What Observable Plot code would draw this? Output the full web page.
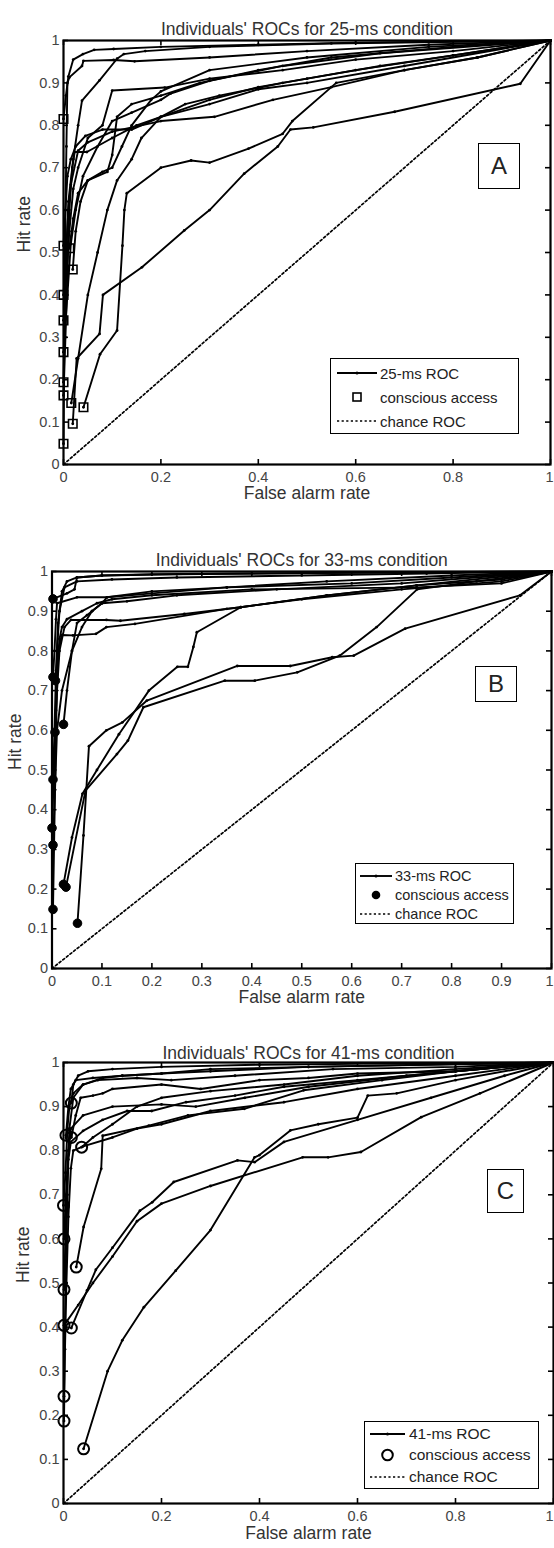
<!DOCTYPE html>
<html><head><meta charset="utf-8">
<script src="https://cdn.jsdelivr.net/npm/d3@7"></script>
<script src="https://cdn.jsdelivr.net/npm/@observablehq/plot@0.6"></script>
<style>
body{margin:0;background:#fff;}
#wrap{position:relative;width:554px;height:1548px;font-family:"Liberation Sans",Arial,sans-serif;color:#222;overflow:hidden;}
.panel{position:absolute;left:0;}
.panel svg{display:block;}
.box{position:absolute;border:1.6px solid #000;background:#fff;box-sizing:border-box;}
.row{position:absolute;left:0;right:0;height:20px;display:flex;align-items:center;white-space:nowrap;}
.row svg{flex:none;}
.letter{position:absolute;border:1.6px solid #000;box-sizing:border-box;display:flex;align-items:center;justify-content:center;background:#fff;color:#222;}
</style></head><body><div id="wrap"></div>
<script>
// ---- tick labels ----
const xTicksA = [0, 0.2, 0.4, 0.6, 0.8, 1];
const xTicksB = [0, 0.1, 0.2, 0.3, 0.4, 0.5, 0.6, 0.7, 0.8, 0.9, 1];
const xTicksC = [0, 0.2, 0.4, 0.6, 0.8, 1];
const yTicks = [0, 0.1, 0.2, 0.3, 0.4, 0.5, 0.6, 0.7, 0.8, 0.9, 1];
const chance = [0, 1];

// ---- ROC curves, [false alarm rate, hit rate]; first point = conscious access ----
const rocA = [
  [[0,0.815],[0.005,0.87],[0.01,0.915],[0.02,0.955],[0.04,0.968],[0.063,0.978],[0.103,0.98],[0.2,0.985],[0.4,0.99],[0.6,0.995],[1,1]],
  [[0,0.049],[0.001,0.2],[0.002,0.4],[0.004,0.6],[0.006,0.75],[0.008,0.9],[0.012,0.913],[0.038,0.94],[0.041,0.952],[0.103,0.954],[0.146,0.951],[0.3,0.96],[0.5,0.975],[0.75,0.99],[1,1]],
  [[0,0.194],[0.003,0.35],[0.006,0.5],[0.01,0.62],[0.02,0.72],[0.03,0.8],[0.038,0.858],[0.074,0.906],[0.11,0.957],[0.124,0.968],[0.168,0.975],[0.3,0.985],[0.55,0.993],[1,1]],
  [[0,0.163],[0.004,0.3],[0.008,0.45],[0.012,0.6],[0.018,0.7],[0.023,0.737],[0.048,0.737],[0.1,0.77],[0.15,0.8],[0.2,0.82],[0.3,0.86],[0.4,0.89],[0.5,0.91],[0.65,0.94],[0.8,0.965],[1,1]],
  [[0,0.4],[0.005,0.5],[0.01,0.6],[0.015,0.66],[0.03,0.74],[0.05,0.76],[0.1,0.785],[0.2,0.81],[0.31,0.82],[0.43,0.86],[0.55,0.89],[0.7,0.93],[0.85,0.96],[1,1]],
  [[0,0.34],[0.006,0.45],[0.012,0.55],[0.02,0.65],[0.03,0.7],[0.05,0.77],[0.08,0.8],[0.1,0.882],[0.208,0.889],[0.3,0.91],[0.45,0.93],[0.6,0.955],[0.8,0.975],[1,1]],
  [[0,0.265],[0.008,0.4],[0.015,0.52],[0.025,0.6],[0.04,0.68],[0.07,0.75],[0.1,0.81],[0.14,0.83],[0.2,0.86],[0.22,0.875],[0.3,0.905],[0.45,0.94],[0.65,0.97],[1,1]],
  [[0,0.516],[0.004,0.6],[0.008,0.68],[0.015,0.72],[0.025,0.75],[0.045,0.775],[0.08,0.79],[0.14,0.79],[0.2,0.82],[0.3,0.85],[0.4,0.885],[0.5,0.9],[0.7,0.94],[1,1]],
  [[0.019,0.46],[0.025,0.55],[0.035,0.62],[0.05,0.67],[0.08,0.69],[0.1,0.7],[0.12,0.75],[0.14,0.8],[0.18,0.86],[0.2,0.88],[0.3,0.93],[0.5,0.96],[0.75,0.985],[1,1]],
  [[0.016,0.145],[0.03,0.25],[0.05,0.4],[0.07,0.5],[0.09,0.6],[0.11,0.67],[0.14,0.72],[0.16,0.77],[0.2,0.82],[0.25,0.85],[0.32,0.87],[0.45,0.9],[0.6,0.93],[0.8,0.965],[1,1]],
  [[0.019,0.096],[0.027,0.25],[0.074,0.308],[0.081,0.4],[0.161,0.465],[0.248,0.552],[0.3,0.6],[0.371,0.686],[0.44,0.75],[0.466,0.79],[0.513,0.795],[0.68,0.832],[0.938,0.898],[1,1]],
  [[0.041,0.135],[0.075,0.26],[0.11,0.316],[0.121,0.516],[0.125,0.6],[0.13,0.64],[0.2,0.7],[0.262,0.717],[0.3,0.712],[0.38,0.745],[0.45,0.78],[0.47,0.81],[0.56,0.9],[0.7,0.93],[0.85,0.96],[1,1]],
  [[0.012,0.51],[0.02,0.58],[0.03,0.64],[0.05,0.67],[0.09,0.69],[0.1,0.73],[0.11,0.82],[0.14,0.85],[0.2,0.87],[0.28,0.9],[0.4,0.93],[0.55,0.96],[0.8,0.985],[1,1]]
];

const rocB = [
  [[0.002,0.931],[0.03,0.945],[0.045,0.955],[0.05,0.985],[0.1,0.99],[0.2,0.993],[0.4,0.995],[0.7,0.998],[1,1]],
  [[0.002,0.734],[0.005,0.8],[0.008,0.88],[0.01,0.92],[0.05,0.935],[0.11,0.935],[0.2,0.945],[0.35,0.96],[0.55,0.975],[0.8,0.99],[1,1]],
  [[0.007,0.725],[0.012,0.8],[0.02,0.84],[0.042,0.839],[0.088,0.843],[0.109,0.86],[0.166,0.868],[0.35,0.906],[0.5,0.93],[0.7,0.955],[0.9,0.975],[1,1]],
  [[0.023,0.615],[0.03,0.7],[0.04,0.8],[0.05,0.87],[0.07,0.89],[0.08,0.9],[0.1,0.92],[0.15,0.925],[0.25,0.94],[0.45,0.955],[0.7,0.97],[1,1]],
  [[0.006,0.595],[0.01,0.7],[0.015,0.8],[0.025,0.86],[0.038,0.878],[0.109,0.878],[0.137,0.876],[0.265,0.893],[0.378,0.91],[0.55,0.94],[0.73,0.965],[0.9,0.98],[1,1]],
  [[0.002,0.476],[0.005,0.6],[0.008,0.75],[0.012,0.87],[0.02,0.95],[0.03,0.975],[0.05,0.985],[0.1,0.99],[0.25,0.993],[0.5,0.996],[1,1]],
  [[0,0.354],[0.004,0.5],[0.008,0.65],[0.01,0.8],[0.015,0.9],[0.025,0.96],[0.05,0.975],[0.12,0.98],[0.25,0.985],[0.5,0.99],[0.75,0.995],[1,1]],
  [[0.002,0.311],[0.006,0.45],[0.01,0.6],[0.02,0.7],[0.04,0.8],[0.06,0.86],[0.08,0.9],[0.1,0.92],[0.11,0.935],[0.2,0.95],[0.35,0.96],[0.6,0.97],[0.8,0.985],[1,1]],
  [[0.023,0.212],[0.04,0.33],[0.061,0.44],[0.09,0.5],[0.134,0.59],[0.194,0.7],[0.251,0.76],[0.272,0.76],[0.283,0.81],[0.29,0.847],[0.378,0.91],[0.55,0.94],[0.73,0.965],[1,1]],
  [[0.051,0.114],[0.063,0.335],[0.074,0.56],[0.109,0.6],[0.141,0.62],[0.19,0.675],[0.371,0.762],[0.477,0.762],[0.561,0.784],[0.604,0.788],[0.707,0.856],[0.937,0.94],[1,1]],
  [[0.028,0.205],[0.067,0.448],[0.13,0.54],[0.152,0.574],[0.183,0.658],[0.346,0.725],[0.406,0.725],[0.491,0.746],[0.576,0.788],[0.65,0.86],[0.731,0.955],[0.85,0.975],[1,1]],
  [[0.002,0.149],[0.004,0.3],[0.006,0.45],[0.008,0.6],[0.01,0.7],[0.012,0.78],[0.015,0.83],[0.02,0.86],[0.03,0.88],[0.06,0.9],[0.09,0.92],[0.12,0.93],[0.2,0.94],[0.4,0.955],[0.73,0.96],[0.9,0.97],[1,1]]
];

const rocC = [
  [[0.041,0.124],[0.09,0.3],[0.12,0.37],[0.164,0.445],[0.229,0.528],[0.3,0.62],[0.39,0.785],[0.4,0.79],[0.463,0.846],[0.52,0.86],[0.6,0.875],[0.621,0.925],[0.68,0.93],[0.8,0.96],[1,1]],
  [[0.016,0.398],[0.048,0.483],[0.066,0.53],[0.1,0.58],[0.156,0.664],[0.181,0.683],[0.225,0.729],[0.355,0.778],[0.39,0.774],[0.45,0.82],[0.6,0.87],[0.75,0.92],[0.9,0.97],[1,1]],
  [[0.001,0.404],[0.03,0.45],[0.06,0.5],[0.1,0.56],[0.15,0.64],[0.2,0.68],[0.3,0.72],[0.488,0.785],[0.54,0.785],[0.607,0.797],[0.73,0.876],[0.85,0.93],[1,1]],
  [[0.026,0.536],[0.041,0.627],[0.077,0.759],[0.08,0.834],[0.174,0.857],[0.254,0.88],[0.369,0.895],[0.49,0.937],[0.65,0.96],[0.8,0.98],[1,1]],
  [[0.037,0.808],[0.06,0.83],[0.1,0.86],[0.15,0.9],[0.2,0.92],[0.3,0.935],[0.45,0.95],[0.6,0.97],[0.8,0.985],[1,1]],
  [[0.016,0.908],[0.02,0.95],[0.03,0.97],[0.05,0.98],[0.1,0.985],[0.2,0.99],[0.4,0.995],[0.7,0.998],[1,1]],
  [[0.005,0.835],[0.01,0.9],[0.015,0.94],[0.025,0.96],[0.06,0.965],[0.12,0.97],[0.2,0.975],[0.3,0.98],[0.5,0.99],[1,1]],
  [[0.016,0.83],[0.025,0.88],[0.035,0.92],[0.06,0.925],[0.08,0.93],[0.1,0.94],[0.2,0.95],[0.28,0.94],[0.4,0.96],[0.5,0.965],[0.6,0.975],[0.8,0.98],[1,1]],
  [[0,0.676],[0.004,0.75],[0.008,0.85],[0.012,0.9],[0.02,0.93],[0.04,0.95],[0.07,0.96],[0.15,0.965],[0.22,0.96],[0.35,0.97],[0.55,0.985],[0.8,0.99],[1,1]],
  [[0.001,0.6],[0.005,0.7],[0.01,0.8],[0.015,0.85],[0.04,0.88],[0.1,0.9],[0.2,0.905],[0.27,0.9],[0.37,0.92],[0.5,0.945],[0.7,0.97],[1,1]],
  [[0.001,0.485],[0.004,0.6],[0.008,0.75],[0.012,0.85],[0.02,0.92],[0.04,0.95],[0.08,0.965],[0.12,0.97],[0.2,0.975],[0.3,0.985],[0.5,0.99],[1,1]],
  [[0.001,0.243],[0.003,0.4],[0.005,0.55],[0.008,0.7],[0.01,0.78],[0.015,0.82],[0.04,0.845],[0.08,0.87],[0.13,0.89],[0.18,0.89],[0.25,0.91],[0.35,0.925],[0.45,0.945],[0.6,0.96],[0.8,0.98],[1,1]],
  [[0.001,0.187],[0.003,0.35],[0.006,0.5],[0.01,0.65],[0.015,0.76],[0.02,0.8],[0.04,0.81],[0.1,0.83],[0.15,0.85],[0.2,0.86],[0.3,0.89],[0.45,0.91],[0.6,0.94],[0.8,0.97],[1,1]]
];

const FONT = '"Liberation Sans", Arial, sans-serif';
const fmt = d3.format("~g");

function panel(o) {
  const fh = o.height - o.mt - o.mb, fw = 554 - o.ml - o.mr;
  const pts = o.curves.flatMap((c, i) => c.map(([fa, hit]) => ({id: i, fa, hit})));
  const acc = o.curves.map((c, i) => ({id: i, fa: c[0][0], hit: c[0][1]}));
  const inner = o.ticksX.filter(d => d < 1), last = o.ticksX.filter(d => d === 1);
  return Plot.plot({
    width: 554, height: o.height,
    marginTop: o.mt, marginBottom: o.mb, marginLeft: o.ml, marginRight: o.mr,
    x: {domain: [0, 1]}, y: {domain: [0, 1]},
    style: {fontFamily: FONT, background: "#fff", overflow: "visible"},
    marks: [
      Plot.line(chance, {x: d => d, y: d => d, stroke: "#000", strokeWidth: 1.7, strokeDasharray: "2.2,2.4"}),
      Plot.line(pts, {x: "fa", y: "hit", z: "id", stroke: "#000", strokeWidth: 1.9, strokeLinejoin: "round"}),
      Plot.dot(pts, {x: "fa", y: "hit", r: 1.4, fill: "#000"}),
      Plot.dot(acc, {x: "fa", y: "hit", symbol: o.symbol, r: o.r, fill: o.fill, stroke: "#000", strokeWidth: o.sw}),
      Plot.frame({stroke: "#000", strokeWidth: 2.2}),
      Plot.tickX(o.ticksX, {x: d => d, insetTop: fh - 5, stroke: "#000", strokeWidth: 1.6}),
      Plot.tickX(o.ticksX, {x: d => d, insetBottom: fh - 5, stroke: "#000", strokeWidth: 1.6}),
      Plot.tickY(yTicks, {y: d => d, insetLeft: fw - 5, stroke: "#000", strokeWidth: 1.6}),
      Plot.tickY(yTicks, {y: d => d, insetRight: fw - 5, stroke: "#000", strokeWidth: 1.6}),
      Plot.axisX(inner, {tickSize: 0, tickPadding: 7, tickFormat: fmt, fontSize: 14.5, color: "#444", label: null}),
      Plot.axisX(last, {tickSize: 0, tickPadding: 7, tickFormat: fmt, fontSize: 14.5, color: "#444", label: null, textAnchor: "end", dx: o.lastDx}),
      Plot.axisY(yTicks, {tickSize: 0, tickPadding: 4, tickFormat: fmt, fontSize: 14.5, color: "#444", label: null}),
      Plot.text([o.title], {text: d => d, frameAnchor: "top", dy: o.titleDy, fontSize: 17.5, fill: "#333"}),
      Plot.text(["False alarm rate"], {text: d => d, frameAnchor: "bottom", dy: o.xlabDy, fontSize: 17.5, fill: "#333"}),
      Plot.text(["Hit rate"], {text: d => d, frameAnchor: "left", dx: o.ylabDx, rotate: -90, fontSize: 17.5, fill: "#333"})
    ]
  });
}

const wrap = document.getElementById("wrap");
function place(node, top) {
  const d = document.createElement("div");
  d.className = "panel"; d.style.top = top + "px";
  d.appendChild(node); wrap.appendChild(d);
}

place(panel({curves: rocA, ticksX: xTicksA, height: 510, mt: 40, mb: 46, ml: 63, mr: 4, lastDx: 3,
  title: "Individuals' ROCs for 25-ms condition", titleDy: -18, xlabDy: 34, ylabDx: -39,
  symbol: "square", r: 4.8, fill: "none", sw: 1.6}), 0);
place(panel({curves: rocB, ticksX: xTicksB, height: 505, mt: 61, mb: 47, ml: 51.5, mr: 3, lastDx: 2,
  title: "Individuals' ROCs for 33-ms condition", titleDy: -18, xlabDy: 34, ylabDx: -37,
  symbol: "circle", r: 4.3, fill: "#000", sw: 1}), 510);
place(panel({curves: rocC, ticksX: xTicksC, height: 533, mt: 47, mb: 45, ml: 63, mr: 1, lastDx: 0,
  title: "Individuals' ROCs for 41-ms condition", titleDy: -16, xlabDy: 35, ylabDx: -40,
  symbol: "circle", r: 5.5, fill: "none", sw: 2}), 1015);

// ---- legends ----
const legendLabels = {
  A: ["25-ms ROC", "conscious access", "chance ROC"],
  B: ["33-ms ROC", "conscious access", "chance ROC"],
  C: ["41-ms ROC", "conscious access", "chance ROC"]
};
function swatch(kind, w, marker) {
  const m = w / 2;
  let inner = "";
  if (kind === 0) inner = `<line x1="0" y1="10" x2="${w}" y2="10" stroke="#000" stroke-width="1.9"/><circle cx="${m}" cy="10" r="1.5" fill="#000"/>`;
  if (kind === 1) {
    if (marker === "square") inner = `<rect x="${m-4}" y="6" width="8" height="8" fill="none" stroke="#000" stroke-width="1.6"/>`;
    else if (marker === "dot") inner = `<circle cx="${m}" cy="10" r="4.3" fill="#000"/>`;
    else inner = `<circle cx="${m}" cy="10" r="5.3" fill="none" stroke="#000" stroke-width="2"/>`;
  }
  if (kind === 2) inner = `<line x1="0" y1="10" x2="${w}" y2="10" stroke="#000" stroke-width="1.7" stroke-dasharray="2.2,2.4"/>`;
  return `<svg width="${w}" height="20" viewBox="0 0 ${w} 20">${inner}</svg>`;
}
function legend(o) {
  const b = document.createElement("div");
  b.className = "box";
  Object.assign(b.style, {left: o.left + "px", top: o.top + "px", width: o.w + "px", height: o.h + "px", fontSize: o.fs + "px"});
  o.labels.forEach((lab, i) => {
    const r = document.createElement("div");
    r.className = "row";
    r.style.top = (o.rows[i] - 10) + "px";
    r.innerHTML = `<span style="width:${o.sx}px;flex:none"></span>${swatch(i, o.sw, o.marker)}<span style="margin-left:${o.gap}px">${lab}</span>`;
    b.appendChild(r);
  });
  wrap.appendChild(b);
}
legend({labels: legendLabels.A, left: 330, top: 358, w: 189, h: 76, fs: 15, rows: [14, 38, 62], sx: 6, sw: 40, gap: 3, marker: "square"});
legend({labels: legendLabels.B, left: 355, top: 863, w: 159, h: 61, fs: 14.5, rows: [12, 31, 50], sx: 4, sw: 32, gap: 3, marker: "dot"});
legend({labels: legendLabels.C, left: 364, top: 1421, w: 175, h: 68, fs: 15.5, rows: [12, 33, 55], sx: 5, sw: 35, gap: 4, marker: "circle"});

function letter(t, left, top, w, h) {
  const d = document.createElement("div");
  d.className = "letter"; d.textContent = t;
  Object.assign(d.style, {left: left + "px", top: top + "px", width: w + "px", height: h + "px", fontSize: "24px"});
  wrap.appendChild(d);
}
letter("A", 478, 143, 42, 46);
letter("B", 475, 666, 42, 36);
letter("C", 487, 1169, 37, 44);
</script></body></html>
